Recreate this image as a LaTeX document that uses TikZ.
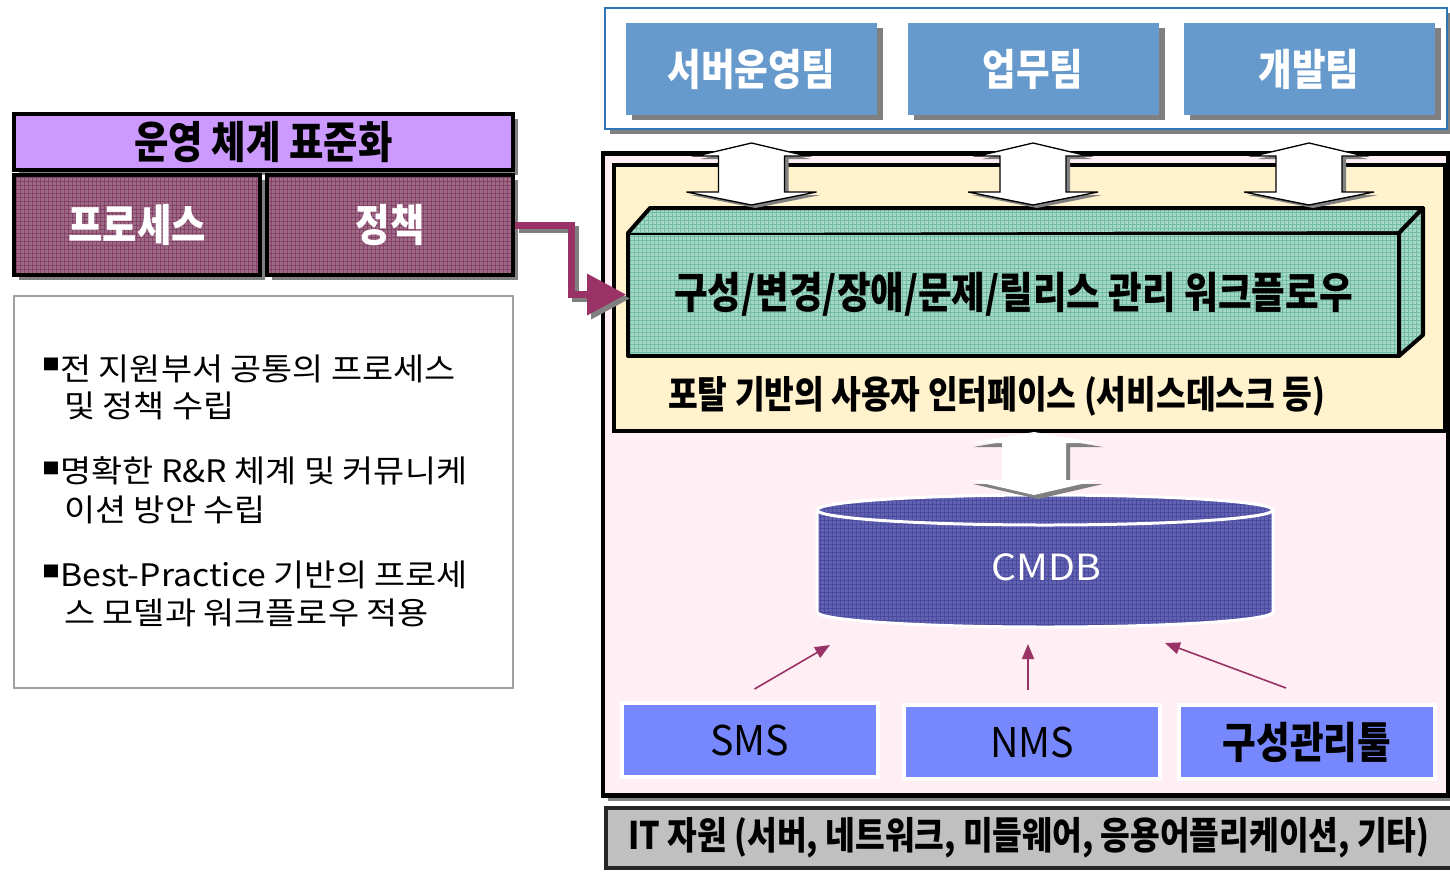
\documentclass[tikz,border=0pt]{standalone}
\usepackage{fontspec}
\setmainfont{Noto Sans CJK KR}
\newfontfamily\krw[FakeStretch=1.09]{Noto Sans CJK KR}
\newfontfamily\krc[FakeStretch=0.85]{Noto Sans CJK KR}
\newfontfamily\krm[FakeStretch=0.96]{Noto Sans CJK KR}
\usetikzlibrary{arrows.meta,shadows,calc}
\definecolor{hdrpurple}{HTML}{CC99FF}
\definecolor{mauvefill}{HTML}{9C6C84}
\definecolor{mauvegrid}{HTML}{86406A}
\definecolor{teamblue}{HTML}{6699CC}
\definecolor{teamframe}{HTML}{2E75B6}
\definecolor{pinkbg}{HTML}{FFEEF4}
\definecolor{yellowbg}{HTML}{FFF2CC}
\definecolor{wfteal}{HTML}{A6D8C8}
\definecolor{wfgrid}{HTML}{72BBA6}
\definecolor{cmdbfill}{HTML}{6262B2}
\definecolor{cmdbgrid}{HTML}{4A4A9E}
\definecolor{toolblue}{HTML}{7788FF}
\definecolor{connpurple}{HTML}{993366}
\definecolor{shadowgrey}{HTML}{808080}
\definecolor{bargrey}{HTML}{C0C0C0}
\definecolor{descborder}{HTML}{A0A0A0}
\tikzset{
  shadowed/.style={general shadow={fill=shadowgrey, draw=none, shadow xshift=#1, shadow yshift=-#1}},
  shadowed/.default=5pt,
  gridfill/.style={path picture={\draw[#1, line width=0.6pt, step=4pt]
      (path picture bounding box.south west) grid (path picture bounding box.north east);}},
  hdrbox/.style={draw=black, line width=4pt, fill=hdrpurple, minimum width=499pt,
      minimum height=56pt, inner sep=0pt, shadowed,
      font=\krc\bfseries\fontsize{44}{48}\selectfont},
  mauvebox/.style={draw=black, line width=4pt, fill=mauvefill, gridfill=mauvegrid,
      minimum width=246pt, minimum height=100pt, inner sep=0pt, shadowed, text=white,
      font=\krc\bfseries\fontsize{44}{48}\selectfont},
  descbox/.style={draw=descborder, line width=1.5pt, fill=white, minimum width=499pt,
      minimum height=392pt, inner sep=0pt},
  desc/.style={anchor=base west, inner sep=0pt, font=\krw\fontsize{31}{37}\selectfont},
  bulletmark/.style={inner sep=0pt, font=\krw\fontsize{16}{16}\selectfont},
  teamframebox/.style={draw=teamframe, line width=1.5pt, fill=white, minimum width=842pt,
      minimum height=121pt, inner sep=0pt, shadowed=5pt},
  teambox/.style={fill=teamblue, minimum width=251pt, minimum height=92pt, inner sep=0pt,
      general shadow={fill=shadowgrey, shadow xshift=6pt, shadow yshift=-5pt},
      text=white, font=\krc\bfseries\fontsize{43}{47}\selectfont},
  outerframe/.style={draw=black, line width=4.5pt, fill=pinkbg, minimum width=845pt,
      minimum height=642pt, inner sep=0pt, shadowed=5pt},
  yframe/.style={draw=black, line width=4pt, fill=yellowbg, minimum width=831pt,
      minimum height=266pt, inner sep=0pt},
  wfface/.style={draw=black, line width=4pt, fill=wfteal, gridfill=wfgrid,
      minimum width=771pt, minimum height=123pt, inner sep=0pt, line join=round,
      font=\krc\bfseries\fontsize{43}{47}\selectfont},
  wfside/.style={draw=black, line width=4pt, fill=wfteal, gridfill=wfgrid, line join=round},
  portal/.style={anchor=west, inner sep=0pt, font=\krc\bfseries\fontsize{38}{42}\selectfont},
  toolbox/.style={draw=white, line width=4pt, fill=toolblue, minimum width=256pt,
      minimum height=74pt, inner sep=0pt},
  latinlabel/.style={font=\krm\fontsize{41}{44}\selectfont},
  krlabel/.style={font=\krc\bfseries\fontsize{43}{47}\selectfont},
  cmdbtext/.style={text=white, font=\krw\fontsize{36}{40}\selectfont},
  itbar/.style={draw=black!85, line width=3.5pt, fill=bargrey, minimum width=846pt,
      minimum height=60pt, inner sep=0pt, font=\krc\bfseries\fontsize{38}{42}\selectfont},
  conn/.style={draw=connpurple, line width=7pt, -{Triangle[length=39pt,width=40pt]}},
  connshadow/.style={draw=shadowgrey, line width=7pt, -{Triangle[length=39pt,width=40pt]}},
  thinarrow/.style={draw=connpurple, line width=1.6pt, -{Triangle[length=15pt,width=12pt]}},
  dblarrowtop/.pic={
    \path[fill=shadowgrey] [shift={(4,3)}] (0,0) -- (-55,13) -- (-33,13) -- (-33,49) -- (-65,49)
      -- (0,62) -- (65,49) -- (33,49) -- (33,13) -- (55,13) -- cycle;
    \path[draw=black, line width=1.3pt, fill=white, line join=miter] (0,0) -- (-55,13) -- (-33,13)
      -- (-33,49) -- (-65,49) -- (0,62) -- (65,49) -- (33,49) -- (33,13) -- (55,13) -- cycle;
  },
  dblarrowlow/.pic={
    \path[fill=shadowgrey] [shift={(4,4)}] (0,0) -- (-65,11) -- (-32,11) -- (-32,48) -- (-65,48)
      -- (0,63) -- (65,48) -- (32,48) -- (32,11) -- (65,11) -- cycle;
    \path[fill=white] (0,0) -- (-65,11) -- (-32,11) -- (-32,48) -- (-65,48)
      -- (0,63) -- (65,48) -- (32,48) -- (32,11) -- (65,11) -- cycle;
  }
}
\begin{document}
\begin{tikzpicture}[x=1pt,y=-1pt]
\useasboundingbox (0,0) rectangle (1450,871);

% ---------- left column ----------
\node[hdrbox] (hdr) at (263.5,142) {운영 체계 표준화};
\node[mauvebox] (proc) at (137,225) {프로세스};
\node[mauvebox] (pol) at (390,225) {정책};

\node[descbox] (descb) at (263.5,492) {};
\node[bulletmark] (m1) at (51,364) {■};
\node[desc] (l1a) at (60,380) {전 지원부서 공통의 프로세스};
\node[desc] (l1b) at (64,417) {및 정책 수립};
\node[bulletmark] (m2) at (51,468) {■};
\node[desc] (l2a) at (60,482) {명확한 R\&R 체계 및 커뮤니케};
\node[desc] (l2b) at (64,521) {이션 방안 수립};
\node[bulletmark] (m3) at (51,571) {■};
\node[desc] (l3a) at (60,586) {Best-Practice 기반의 프로세};
\node[desc] (l3b) at (64,624) {스 모델과 워크플로우 적용};

% ---------- teams ----------
\node[teamframebox] (tf) at (1026,68.5) {};
\node[teambox] (t1) at (751.5,69) {서버운영팀};
\node[teambox] (t2) at (1033,69) {업무팀};
\node[teambox] (t3) at (1309,69) {개발팀};

% ---------- main frame ----------
\node[outerframe] (of) at (1025.5,474.5) {};
\node[yframe] (yf) at (1029.5,298) {};
\node[wfface] (wf) at (1013.5,294.5) {구성/변경/장애/문제/릴리스 관리 워크플로우};
\path[wfside] (wf.north west) ++(2,2) -- ++(22,-25) -- ($(wf.north east)+(22,-23)$)
  -- (wf.north east) ++(-2,2) -- cycle;
\path[wfside] ($(wf.north east)+(-2,2)$) -- ++(24,-25) -- ($(wf.south east)+(22,-23)$)
  -- ($(wf.south east)+(-2,-2)$) -- cycle;
\node[portal] (pt) at (668,396) {포탈 기반의 사용자 인터페이스 (서비스데스크 등)};

% top double arrows
\pic at (t1.south |- 0,143) {dblarrowtop};
\pic at (t2.south |- 0,143) {dblarrowtop};
\pic at (t3.south |- 0,143) {dblarrowtop};

% ---------- CMDB ----------
\draw[white, line width=3pt, fill=cmdbfill, gridfill=cmdbgrid]
  (817,510) -- (817,612) arc[start angle=180, end angle=0, x radius=228, y radius=15]
  -- (1273,510) -- cycle;
\draw[white, line width=3pt, fill=cmdbfill, gridfill=cmdbgrid]
  (1045,510) ellipse[x radius=228, y radius=15];
\node[cmdbtext] (cmdb) at (1046,567) {CMDB};
\pic at (1034,432) {dblarrowlow};

% ---------- tools ----------
\node[toolbox, latinlabel] (sms) at (749.5,740) {SMS};
\node[toolbox, latinlabel] (nms) at (1032,742) {NMS};
\node[toolbox, krlabel] (tool) at (1307,742) {구성관리툴};

\coordinate (e1) at (830,645);
\coordinate (e2) at (1028,644);
\coordinate (e3) at (1165,643);
\draw[thinarrow] ([xshift=5pt,yshift=12pt]sms.north) -- (e1);
\draw[thinarrow] ([xshift=-4pt,yshift=13pt]nms.north) -- (e2);
\draw[thinarrow] ([xshift=-21pt,yshift=15pt]tool.north) -- (e3);

% ---------- IT bar ----------
\node[itbar] (it) at (1029,838) {IT 자원 (서버, 네트워크, 미들웨어, 응용어플리케이션, 기타)};

% ---------- connector ----------
\coordinate (elbow) at (571,225);
\draw[connshadow] ([shift={(4,4)}]pol.east) -- ([shift={(4,4)}]elbow) |- ([shift={(4,4)}]wf.west);
\draw[conn] (pol.east) -- (elbow) |- (wf.west);
\end{tikzpicture}
\end{document}
